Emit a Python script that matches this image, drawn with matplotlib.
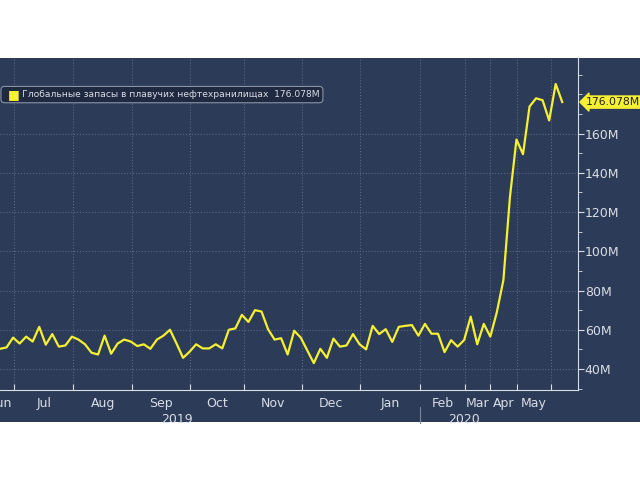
import matplotlib
matplotlib.use("Agg")
import matplotlib.pyplot as plt
from matplotlib.ticker import MultipleLocator, FixedLocator, NullFormatter

# ---------- data (million barrels, ~2 readings per week) ----------
values = [50.3, 51, 56, 53, 56.5, 54, 61.5, 52.4, 57.8, 51.4, 52, 56.5, 55, 52.6,
          48.3, 47.4, 57, 47.8, 53, 55, 54, 51.7, 52.6, 50.3, 55, 57, 60, 53,
          45.7, 48.8, 52.6, 50.5, 50.5, 52.6, 50.5, 60, 60.7, 67.6, 64, 70, 69.3,
          60.3, 55, 55.7, 47.4, 59.5, 56, 49.5, 43, 50.3, 45.7, 55.5, 51.4, 52,
          57.8, 52.6, 50, 62, 57.8, 60.3, 53.8, 61.5, 62, 62.4, 57, 63, 58, 58,
          48.6, 54.7, 51.4, 54.8, 66.7, 52.6, 63, 56.5, 69, 85.3, 127.6, 157,
          149.5, 173.8, 178, 177, 166.7, 185.3, 176.078]
month_ticks = [2.2, 11.2, 20.2, 29.1, 37.3, 46.2, 55.1, 64.2, 71.2, 75.0, 79.1, 84.3]
month_labels = ["Jun", "Jul", "Aug", "Sep", "Oct", "Nov", "Dec", "Jan", "Feb", "Mar", "Apr", "May"]
year_labels = ["2019", "2020"]
legend_text = "Глобальные запасы в плавучих нефтехранилищах  176.078M"

BG = "#2c3b58"
FG = "#d9dde6"
YEL = "#f5f032"

fig = plt.figure(figsize=(6.4, 4.8), dpi=100)
bg = fig.add_axes([0, 0.121, 1, 0.758], zorder=-1)
bg.set_facecolor(BG)
bg.set_xticks([]); bg.set_yticks([])
for s in bg.spines.values():
    s.set_visible(False)

ax = fig.add_axes([0, 0.1875, 0.903, 0.6915])
ax.set_facecolor(BG)
ax.plot(range(len(values)), values, color=YEL, lw=1.6)
ax.set_xlim(0, 88.4)
ax.set_ylim(29.3, 198.5)

for s in ["top", "left"]:
    ax.spines[s].set_visible(False)
ax.spines["right"].set_color(FG)
ax.spines["bottom"].set_color(FG)

# y axis on right
ax.yaxis.tick_right()
ax.set_yticks([40, 60, 80, 100, 120, 140, 160])
ax.set_yticklabels([f"{v}M" for v in [40, 60, 80, 100, 120, 140, 160]])
ax.yaxis.set_minor_locator(MultipleLocator(10))
ax.tick_params(axis="y", which="major", colors=FG, labelcolor=FG, direction="out",
               length=4, labelsize=9, pad=1)
ax.tick_params(axis="y", which="minor", colors=FG, length=3)
ax.grid(True, which="major", axis="y", color="#5a6884", ls=":", lw=0.8)

# x axis: month ticks, labels centered between ticks
ax.xaxis.set_major_locator(FixedLocator(month_ticks))
ax.xaxis.set_major_formatter(NullFormatter())
ax.grid(True, which="major", axis="x", color="#5a6884", ls=":", lw=0.8)
ax.tick_params(axis="x", which="major", colors=FG, direction="in", length=4)
edges = [-1.6] + month_ticks + [88.4]
xt = ax.get_xaxis_transform()
for i, lab in enumerate(month_labels):
    ax.text((edges[i] + edges[i + 1]) / 2, -0.022, lab, transform=xt,
            ha="center", va="top", color=FG, fontsize=9, clip_on=False)
ax.text(27, -0.068, year_labels[0], transform=xt,
        ha="center", va="top", color=FG, fontsize=9)
ax.text(71, -0.068, year_labels[1], transform=xt,
        ha="center", va="top", color=FG, fontsize=9)
ax.plot([64.2, 64.2], [-0.05, -0.098], transform=xt,
        color="#7a869e", lw=0.8, clip_on=False)

# last value tag
ax.annotate(f"{values[-1]:.3f}M", xy=(1.0, values[-1]), xycoords=("axes fraction", "data"),
            xytext=(6, 0), textcoords="offset points", ha="left", va="center",
            fontsize=7.8, color="#222222",
            bbox=dict(boxstyle="larrow,pad=0.1", fc=YEL, ec=YEL))

# legend box
ax.text(0.008, 0.89, "      " + legend_text, transform=ax.transAxes, color=FG, fontsize=6.6,
        va="center",
        bbox=dict(boxstyle="round,pad=0.4", fc="#1f2a40", ec="#8a94a8", lw=0.8))
ax.text(0.013, 0.89, "■", transform=ax.transAxes, color=YEL, fontsize=9, va="center")

fig.savefig("out.png", dpi=100)
